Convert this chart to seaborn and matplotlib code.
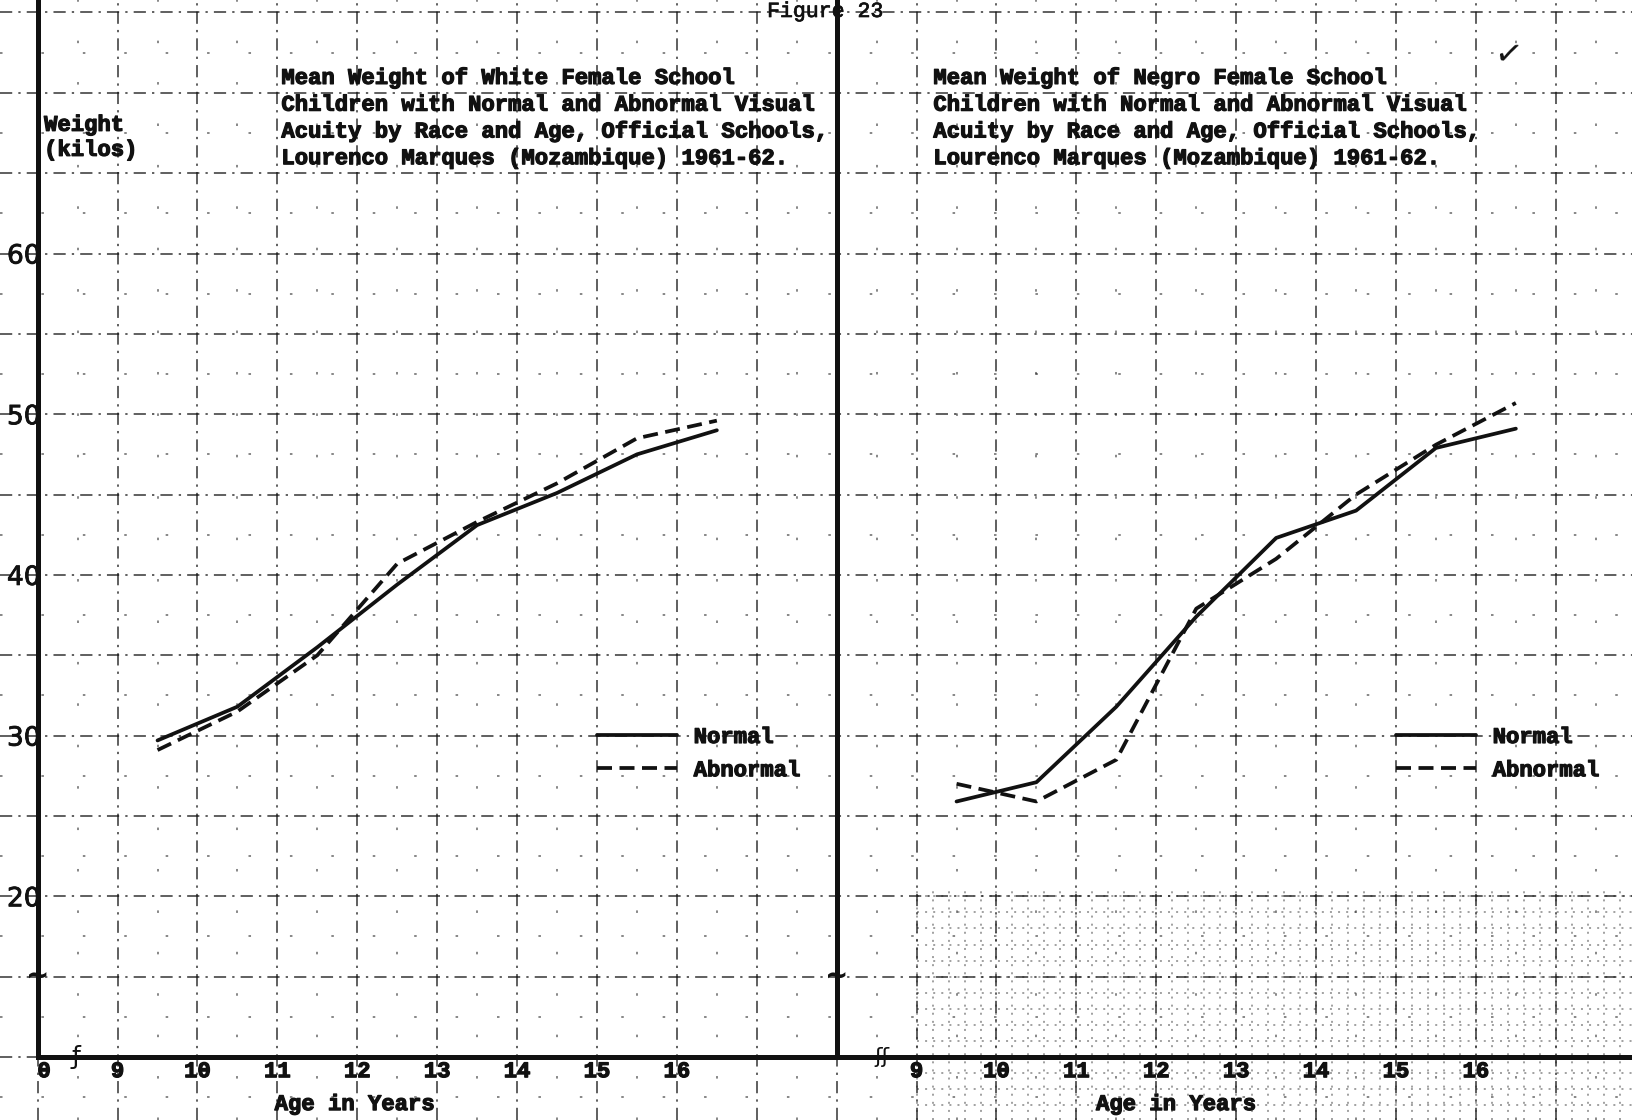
import numpy as np
import pandas as pd
import matplotlib
matplotlib.use("Agg")
import matplotlib.pyplot as plt
import matplotlib.patheffects as pe
import seaborn as sns
from matplotlib.lines import Line2D

# ---- data -------------------------------------------------------------
ages = [9.5, 10.5, 11.5, 12.5, 13.5, 14.5, 15.5, 16.5]
white_normal = [29.7, 31.8, 35.5, 39.4, 43.1, 45.1, 47.5, 49.0]
white_abnormal = [29.1, 31.5, 35.0, 40.7, 43.3, 45.7, 48.5, 49.6]
negro_normal = [25.9, 27.1, 31.8, 37.4, 42.3, 44.0, 47.9, 49.1]
negro_abnormal = [27.0, 25.9, 28.5, 37.9, 41.0, 45.0, 48.1, 50.7]

age_ticks = [9, 10, 11, 12, 13, 14, 15, 16]
weight_ticks = [20, 30, 40, 50, 60]
status_labels = ["Normal", "Abnormal"]

title_white = ("Mean Weight of White Female School\n"
               "Children with Normal and Abnormal Visual\n"
               "Acuity by Race and Age, Official Schools,\n"
               "Lourenco Marques (Mozambique) 1961-62.")
title_negro = ("Mean Weight of Negro Female School\n"
               "Children with Normal and Abnormal Visual\n"
               "Acuity by Race and Age, Official Schools,\n"
               "Lourenco Marques (Mozambique) 1961-62.")

# ---- style ------------------------------------------------------------
sns.set_theme(style="white")
plt.rcParams["font.family"] = ["Liberation Mono", "DejaVu Sans"]
TYPE = dict(family=["Liberation Mono", "DejaVu Sans"], weight="bold")
INK = "#111111"
HEAVY = [pe.withStroke(linewidth=0.9, foreground=INK)]

W, H = 1632, 1120
PX_YEAR = 79.9      # pixels per year
PX_KG = 16.07       # pixels per kilo
X0 = 37.7           # left vertical axis (pixels)
XMID = 836.7        # middle vertical axis (pixels)
YBASE = 1057.0      # horizontal axis, pixels from top (10 kilos)

fig = plt.figure(figsize=(W / 100, H / 100), dpi=100)
fig.patch.set_facecolor("white")

# ---- graph paper background ------------------------------------------
bg = fig.add_axes([0, 0, 1, 1])
bx0 = 8 - X0 / PX_YEAR
bx1 = 8 + (W - X0) / PX_YEAR
by0 = 10 - (H - YBASE) / PX_KG
by1 = 10 + YBASE / PX_KG
bg.set_xlim(bx0, bx1)
bg.set_ylim(by0, by1)
bg.axis("off")

major_x = np.arange(np.ceil(bx0), bx1 + 0.01, 1.0)
major_y = np.arange(5, by1, 5.0)
half_x = major_x + 0.5
half_y = major_y + 2.5
dashdot = (0, (8, 4, 1.5, 4))
bg.vlines(major_x, by0, by1, colors=INK, linestyles=[dashdot], lw=1.1, alpha=0.85)
bg.hlines(major_y, bx0, bx1, colors=INK, linestyles=[dashdot], lw=1.1, alpha=0.85)
bg.vlines(half_x, by0, by1, colors=INK, linestyles=[(0, (1.3, 20))], lw=1.4, alpha=0.5)
bg.hlines(half_y, bx0, bx1, colors=INK, linestyles=[(0, (1.3, 20))], lw=1.4, alpha=0.5)

# finer ruling that shows through in the lower right corner
fine_x = np.arange(19.0, bx1, 0.2)
fine_y = np.arange(np.ceil(by0), 20.5, 1.0)
bg.vlines(fine_x, by0, 20.5, colors=INK, linestyles=[(0, (1.3, 4))], lw=1.1, alpha=0.5)
bg.hlines(fine_y, 19.0, bx1, colors=INK, linestyles=[(0, (1.3, 4))], lw=1.1, alpha=0.5)

# ---- data panels --------------------------------------------------------
bottom = (H - YBASE) / H
height = YBASE / H
axL = fig.add_axes([X0 / W, bottom, (XMID - X0) / W, height])
axR = fig.add_axes([XMID / W, bottom, (W - XMID) / W, height])
ytop = 10 + YBASE / PX_KG
axL.set_xlim(8, 18)
axR.set_xlim(8, 8 + (W - XMID) / PX_YEAR)

palette = {"Normal": INK, "Abnormal": INK}
dashes = {"Normal": "", "Abnormal": (4, 2)}
LW = 2.7

for ax, normal, abnormal, title, tx, lab_x in [
        (axL, white_normal, white_abnormal, title_white, 11.05, 11.97),
        (axR, negro_normal, negro_abnormal, title_negro, 9.21, 12.25)]:
    df = pd.DataFrame({
        "age": ages * 2,
        "weight": normal + abnormal,
        "status": [status_labels[0]] * len(ages) + [status_labels[1]] * len(ages),
    })
    sns.lineplot(data=df, x="age", y="weight", hue="status", style="status",
                 palette=palette, dashes=dashes, linewidth=LW, sort=False,
                 legend=False, ax=ax)
    ax.set_ylim(10, ytop)
    ax.set_facecolor("none")
    ax.set_xlabel("")
    ax.set_ylabel("")
    ax.grid(False)
    for side in ("top", "right"):
        ax.spines[side].set_visible(False)
    for side in ("left", "bottom"):
        ax.spines[side].set_visible(True)
        ax.spines[side].set_color(INK)
        ax.spines[side].set_linewidth(3.6)
    ax.set_xticks(age_ticks)
    ax.set_xticklabels([str(a) for a in age_ticks], fontdict=dict(size=16, **TYPE))
    for lbl in ax.get_xticklabels():
        lbl.set_path_effects(HEAVY)
    ax.tick_params(axis="x", length=0, pad=3, colors=INK)

    ax.text(tx, 71.55, title, ha="left", va="top", fontsize=16,
            linespacing=1.36, color=INK, path_effects=HEAVY, **TYPE)
    ax.text(lab_x, -0.045, "Age in Years", transform=ax.get_xaxis_transform(),
            ha="center", va="center", fontsize=16, color=INK,
            path_effects=HEAVY, **TYPE)

    handles = [Line2D([], [], color=INK, lw=LW),
               Line2D([], [], color=INK, lw=LW, ls=(0, (4, 2)))]
    leg = ax.legend(handles, status_labels, loc="center left",
                    bbox_to_anchor=(15.0, 28.85), bbox_transform=ax.transData,
                    frameon=False, borderpad=0, borderaxespad=0,
                    handlelength=3.6, handletextpad=0.75, labelspacing=0.55,
                    prop=dict(size=16, **TYPE))
    for t in leg.get_texts():
        t.set_color(INK)
        t.set_path_effects(HEAVY)

# y axis labels on the left panel only
axL.set_yticks(weight_ticks)
axL.set_yticklabels([str(v) for v in weight_ticks],
                    fontdict=dict(size=19, family=["Liberation Sans Narrow", "DejaVu Sans"]))
for lbl in axL.get_yticklabels():
    lbl.set_path_effects([pe.withStroke(linewidth=0.6, foreground=INK)])
axL.tick_params(axis="y", length=0, pad=-2, colors=INK)
axR.set_yticks([])

axL.text(8.08, 67.2, "Weight\n(kilos)", ha="left", va="center", fontsize=16,
         linespacing=1.25, color=INK, path_effects=HEAVY, **TYPE)
axL.annotate("0", xy=(8.08, 0), xycoords=("data", "axes fraction"),
             xytext=(0, -3), textcoords="offset points", ha="center", va="top",
             fontsize=16, color=INK, path_effects=HEAVY, **TYPE)

# axis break marks
for ax in (axL, axR):
    ax.text(8.0, 15.0, "~", ha="center", va="center", fontsize=20,
            fontweight="bold", color=INK, family="DejaVu Sans", clip_on=False)
axL.text(8.48, 10.0, "ƒ", ha="center", va="center", fontsize=18,
         color=INK, family="DejaVu Sans", clip_on=False)
axR.text(8.57, 10.0, "ʃʃ", ha="center", va="center", fontsize=16,
         color=INK, family="DejaVu Sans", clip_on=False)
axR.text(16.41, 72.3, "✓", ha="center", va="center", fontsize=24,
         rotation=-8, color=INK, family="DejaVu Sans")

fig.text(825 / W, 1 - 1 / H, "Figure 23", ha="center", va="top",
         fontsize=15.5, color=INK, family=["Liberation Mono", "DejaVu Sans"],
         path_effects=[pe.withStroke(linewidth=0.5, foreground=INK)])

fig.savefig("out.png", dpi=100, facecolor="white")
